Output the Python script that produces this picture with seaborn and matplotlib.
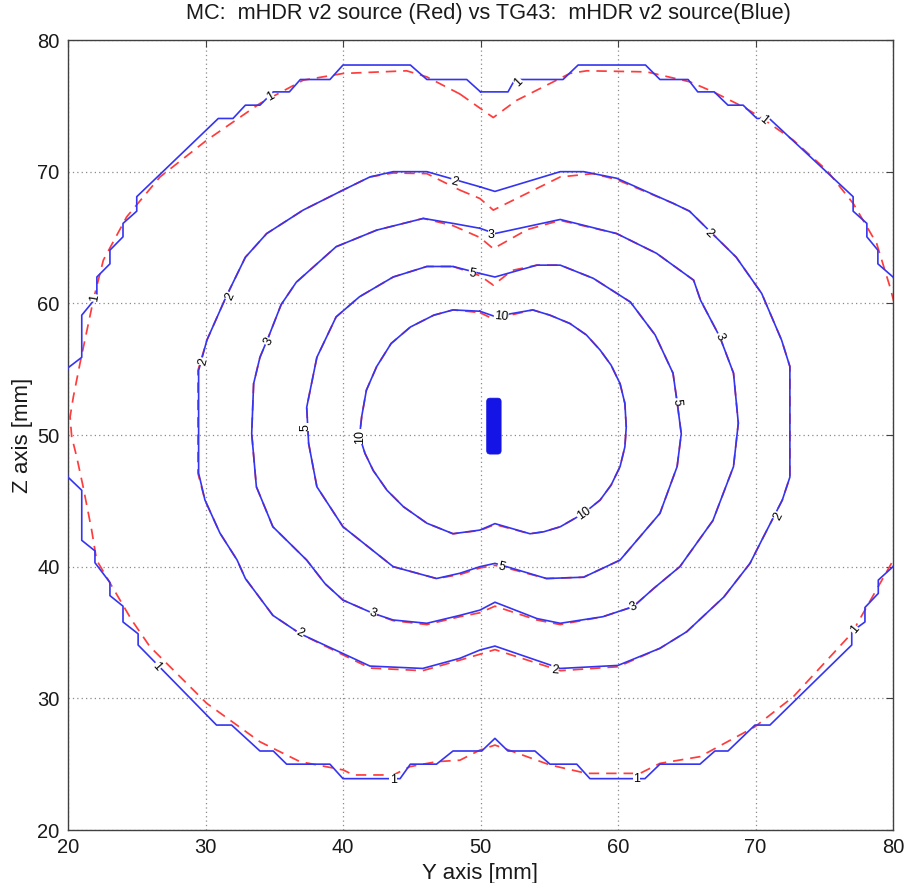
import numpy as np
import pandas as pd
import matplotlib
matplotlib.use("Agg")
import matplotlib.pyplot as plt
from matplotlib.patches import FancyBboxPatch
import seaborn as sns

# ---------------- data (Y, Z in mm) ----------------
levels = [1, 2, 3, 5, 10]

# TG43 (blue, solid) isodose outlines
tg43_y_1 = [50.0, 52.0, 52.5, 56.0, 57.1, 62.0, 63.05, 65.1, 65.8, 67.0, 68.0, 69.1, 70.1, 71.0,
            77.1, 77.1, 78.1, 78.1, 78.9, 78.9, 80.0, 81.0, 81.0, 82.0, 82.4, 82.0, 81.0, 81.0,
            80.0, 78.93, 78.93, 77.96, 77.96, 77.0, 77.0, 71.05, 69.96, 68.0, 67.05, 65.96, 63.05,
            61.96, 57.96, 57.0, 55.05, 53.96, 52.0, 51.05, 50.09, 48.0, 46.8, 44.9, 44.15, 40.0,
            39.05, 35.9, 34.93, 33.96, 31.9, 30.8, 25.1, 25.1, 24.0, 24.0, 23.05, 23.05, 21.96,
            21.96, 21.0, 21.0, 20.0, 19.6, 19.5, 19.6, 20.0, 21.0, 21.0, 22.1, 22.1, 23.05, 23.05,
            24.0, 24.0, 25.0, 25.0, 30.93, 32.0, 32.9, 33.96, 34.93, 36.1, 36.9, 39.05, 40.0, 44.9,
            46.1, 49.0, 50.0]
tg43_z_1 = [76.06, 76.06, 77.0, 77.0, 78.1, 78.1, 77.0, 77.0, 76.06, 76.06, 75.05, 75.05, 74.04, 74.04,
            68.1, 67.0, 66.07, 65.05, 64.04, 63.0, 62.0, 60.5, 55.9, 55.1, 51.0, 46.8, 45.8, 42.0,
            40.0, 38.98, 37.97, 36.9, 35.8, 35.07, 34.05, 27.97, 27.97, 26.0, 26.0, 25.0, 25.0,
            23.9, 23.9, 25.0, 25.0, 26.0, 26.0, 26.96, 26.0, 26.0, 25.0, 25.0, 23.9, 23.9,
            25.0, 25.0, 26.0, 26.0, 27.97, 27.97, 34.05, 34.9, 35.8, 37.0, 37.8, 38.8, 40.3,
            41.2, 42.0, 45.8, 46.8, 48.5, 51.0, 53.5, 55.1, 55.9, 59.1, 60.5, 62.0, 63.0, 64.04,
            65.05, 66.07, 67.0, 68.1, 74.04, 74.04, 75.05, 75.05, 76.06, 76.06, 77.0, 77.0, 78.1, 78.1,
            77.0, 77.0, 76.06]

tg43_y_2 = [49.96, 51.05, 55.8, 57.5, 59.9, 64.0, 65.2, 68.6, 70.45, 71.9, 72.5, 72.5, 71.95, 70.45,
            69.6, 67.7, 65.0, 63.05, 60.0, 55.8, 51.05, 49.96, 48.5, 45.8, 41.96, 40.0, 36.9, 34.9,
            32.9, 32.3, 31.05, 29.96, 29.5, 29.5, 30.1, 31.5, 32.9, 34.45, 37.1, 40.0, 41.96, 43.65,
            46.1, 49.96]
tg43_z_2 = [68.85, 68.5, 70.0, 70.0, 69.5, 67.6, 67.0, 63.5, 60.75, 57.2, 55.2, 46.8, 45.06, 42.0,
            40.25, 37.7, 35.06, 33.8, 32.5, 32.27, 33.97, 33.67, 33.04, 32.27, 32.45, 33.4, 34.9, 36.3,
            39.1, 40.5, 42.55, 45.06, 47.1, 54.9, 57.2, 60.5, 63.5, 65.3, 67.08, 68.6, 69.6, 70.0,
            70.0, 68.85]

tg43_y_3 = [49.96, 51.05, 55.8, 59.9, 62.8, 65.5, 66.0, 67.4, 68.4, 68.75, 68.4, 66.9, 64.5, 62.6,
            61.1, 58.9, 55.8, 54.1, 51.05, 49.96, 48.5, 46.1, 43.65, 42.2, 40.0, 38.7, 37.36, 34.9,
            33.7, 33.36, 33.5, 33.96, 34.6, 35.5, 36.6, 39.5, 42.45, 45.84, 48.0, 49.96]
tg43_z_3 = [65.7, 65.3, 66.37, 65.3, 63.8, 61.76, 60.24, 57.46, 54.7, 50.9, 47.6, 43.5, 40.0, 38.35,
            36.96, 36.2, 35.7, 36.06, 37.3, 36.7, 36.3, 35.7, 35.95, 36.45, 37.46, 38.7, 40.5, 43.03,
            46.07, 50.1, 53.9, 55.9, 57.5, 59.9, 61.6, 64.3, 65.56, 66.45, 66.07, 65.7]

tg43_y_5 = [49.96, 51.05, 54.1, 55.8, 58.2, 60.9, 62.7, 64.0, 64.3, 64.6, 64.3, 63.05, 60.15, 57.5,
            54.8, 51.9, 51.05, 49.96, 48.5, 46.8, 43.65, 40.0, 38.1, 37.5, 37.36, 38.1, 39.5, 41.2,
            43.65, 46.1, 48.0, 49.96]
tg43_z_5 = [62.27, 62.0, 62.9, 62.9, 61.9, 60.1, 57.6, 54.7, 52.5, 50.1, 47.6, 44.05, 40.5, 39.2,
            39.1, 40.0, 40.25, 40.0, 39.5, 39.1, 40.0, 43.03, 46.07, 49.36, 52.1, 55.9, 58.97, 60.5,
            62.0, 62.8, 62.8, 62.27]

tg43_y_10 = [49.96, 51.05, 53.8, 55.05, 56.5, 57.7, 58.7, 59.5, 60.15, 60.5, 60.6, 60.5, 60.15, 59.5,
             58.7, 57.5, 55.8, 54.6, 53.6, 51.05, 49.96, 48.0, 46.1, 44.4, 43.2, 42.2, 41.6, 41.2,
             41.36, 41.7, 42.45, 43.5, 44.9, 46.6, 48.0, 49.96]
tg43_z_10 = [59.4, 59.0, 59.5, 59.1, 58.47, 57.6, 56.45, 55.3, 53.9, 52.4, 50.6, 49.1, 47.6, 46.2,
             45.06, 44.05, 43.03, 42.65, 42.5, 43.27, 42.78, 42.5, 43.3, 44.55, 45.8, 47.3, 48.6, 49.9,
             51.4, 53.4, 55.2, 56.95, 58.2, 59.1, 59.5, 59.4]

# MC (red, dashed) isodose outlines
mc_y_1 = [48.5, 50.93, 52.6, 56.5, 57.72, 62.09, 65.24, 66.93, 69.11, 70.33, 72.75, 75.18, 77.11,
          78.81, 79.78, 80.6, 81.1, 81.2, 81.0, 80.5, 80.02, 77.0, 72.75, 69.96, 65.96, 63.05, 61.6,
          57.72, 55.05, 51.05, 49.96, 48.5, 46.8, 44.87, 43.66, 40.75, 40.02, 36.87, 33.96, 30.09,
          25.96, 24.63, 22.08, 21.72, 21.1, 20.63, 20.27, 20.15, 20.39, 20.87, 21.84, 22.57, 24.27,
          26.69, 30.09, 33.96, 37.11, 40.02, 44.63, 46.09, 48.5]
mc_z_1 = [75.9, 74.11, 75.4, 77.46, 77.66, 77.58, 76.82, 76.06, 74.92, 74.16, 72.39, 70.11, 67.58,
          64.55, 61.25, 58.0, 54.0, 50.5, 46.0, 42.5, 40.5, 34.94, 30.12, 27.84, 25.57, 25.06, 24.3,
          24.3, 24.94, 26.45, 26.07, 25.3, 25.19, 24.81, 24.18, 24.18, 24.56, 25.19, 26.7, 29.62,
          33.92, 35.95, 40.5, 42.78, 46.07, 48.35, 49.86, 51.38, 52.9, 55.43, 60.24, 63.28, 66.57,
          69.6, 72.39, 75.18, 76.95, 77.46, 77.66, 77.2, 75.9]

mc_y_2 = [48.5, 49.96, 50.93, 52.5, 55.8, 58.2, 59.9, 64.0, 65.2, 68.6, 70.45, 71.9, 72.5, 72.5,
          71.95, 70.45, 69.6, 67.7, 65.0, 63.05, 60.0, 55.8, 51.05, 49.96, 48.5, 45.8, 41.96, 40.0,
          36.9, 34.9, 32.9, 32.3, 31.05, 29.96, 29.45, 29.45, 30.1, 31.5, 32.9, 34.45, 37.1, 40.0,
          41.96, 43.65, 46.1, 48.5]
mc_z_2 = [68.6, 67.96, 67.08, 67.9, 69.6, 69.85, 69.4, 67.6, 67.0, 63.5, 60.75, 57.2, 55.2, 46.8,
          45.06, 42.0, 40.25, 37.7, 35.06, 33.8, 32.4, 32.1, 33.7, 33.35, 32.9, 32.1, 32.3, 33.3,
          34.9, 36.3, 39.1, 40.5, 42.55, 45.06, 47.1, 54.9, 57.2, 60.5, 63.5, 65.3, 67.08, 68.6,
          69.6, 69.9, 69.85, 68.6]

mc_y_3 = [48.0, 49.96, 50.93, 53.4, 55.8, 59.9, 62.8, 65.5, 66.0, 67.4, 68.4, 68.75, 68.4, 66.9,
          64.5, 62.6, 61.1, 58.9, 55.8, 54.1, 51.05, 49.96, 48.5, 46.1, 43.65, 42.2, 40.0, 38.7,
          37.36, 34.9, 33.7, 33.36, 33.5, 33.96, 34.6, 35.5, 36.6, 39.5, 42.45, 45.84, 48.0]
mc_z_3 = [65.9, 65.0, 64.15, 65.6, 66.3, 65.3, 63.8, 61.76, 60.24, 57.46, 54.7, 50.9, 47.6, 43.5,
          40.0, 38.35, 36.96, 36.2, 35.6, 35.95, 37.0, 36.5, 36.2, 35.6, 35.9, 36.45, 37.46, 38.7,
          40.5, 43.03, 46.07, 50.1, 53.9, 55.9, 57.5, 59.9, 61.6, 64.3, 65.56, 66.45, 65.9]

mc_y_5 = [48.0, 49.96, 50.93, 52.3, 54.1, 55.8, 58.2, 60.9, 62.7, 64.0, 64.3, 64.6, 64.3, 63.05,
          60.15, 57.5, 54.8, 51.9, 51.05, 49.96, 48.5, 46.8, 43.65, 40.0, 38.1, 37.5, 37.36, 38.1,
          39.5, 41.2, 43.65, 46.1, 48.0]
mc_z_5 = [62.8, 62.1, 61.38, 62.5, 62.9, 62.9, 61.9, 60.1, 57.6, 54.7, 52.5, 50.1, 47.6, 44.05,
          40.5, 39.2, 39.1, 39.9, 40.1, 39.9, 39.4, 39.1, 40.0, 43.03, 46.07, 49.36, 52.1, 55.9,
          58.97, 60.5, 62.0, 62.8, 62.8]

mc_y_10 = [49.96, 50.93, 53.8, 55.05, 56.5, 57.7, 58.7, 59.5, 60.15, 60.5, 60.6, 60.5, 60.15, 59.5,
           58.7, 57.5, 55.8, 54.6, 53.6, 51.05, 49.96, 48.0, 46.1, 44.4, 43.2, 42.2, 41.6, 41.2,
           41.36, 41.7, 42.45, 43.5, 44.9, 46.6, 48.0, 49.96]
mc_z_10 = [59.3, 58.8, 59.5, 59.1, 58.47, 57.6, 56.45, 55.3, 53.9, 52.4, 50.6, 49.1, 47.6, 46.2,
           45.06, 44.05, 43.03, 42.65, 42.5, 43.2, 42.75, 42.5, 43.3, 44.55, 45.8, 47.3, 48.6, 49.9,
           51.4, 53.4, 55.2, 56.95, 58.2, 59.1, 59.5, 59.3]

# contour labels (text, Y, Z, rotation)
label_text = ["1", "1", "1", "1", "1", "1", "1", "1",
              "2", "2", "2", "2", "2", "2", "2",
              "3", "3", "3", "3", "3",
              "5", "5", "5", "5",
              "10", "10", "10"]
label_y = [34.7, 52.75, 70.6, 21.96, 26.45, 43.65, 61.35, 77.24,
           48.1, 66.6, 31.8, 29.84, 71.66, 36.87, 55.4,
           50.8, 34.57, 67.4, 42.2, 61.1,
           49.4, 37.24, 64.3, 51.5,
           41.24, 51.5, 57.5]
label_z = [75.7, 76.8, 73.9, 60.4, 32.4, 23.8, 23.9, 35.2,
           69.2, 65.3, 60.5, 55.56, 43.8, 34.94, 32.15,
           65.2, 57.08, 57.46, 36.45, 36.96,
           62.27, 50.6, 52.5, 40.0,
           49.87, 58.97, 44.05]
label_rot = [30, 45, -40, 80, -48, 0, 0, 50,
             -15, -45, 65, 75, 62, -28, -5,
             0, 60, -65, -20, 25,
             -10, 90, -85, -15,
             90, -5, 35]

# source (Y range, Z range)
source_y = [50.45, 51.5]
source_z = [48.55, 52.8]

title_text = "MC:  mHDR v2 source (Red) vs TG43:  mHDR v2 source(Blue)"
x_ticks = [20, 30, 40, 50, 60, 70, 80]
y_ticks = [20, 30, 40, 50, 60, 70, 80]

# ---------------- drawing ----------------
sns.set_style("white")
plt.rcParams["font.family"] = ["Liberation Sans", "DejaVu Sans"]

fig = plt.figure(figsize=(9.07, 8.83), dpi=100)
ax = fig.add_axes([68 / 907, 53 / 883, 825 / 907, 790 / 883])

tg43 = {1: (tg43_y_1, tg43_z_1), 2: (tg43_y_2, tg43_z_2), 3: (tg43_y_3, tg43_z_3),
        5: (tg43_y_5, tg43_z_5), 10: (tg43_y_10, tg43_z_10)}
mc = {1: (mc_y_1, mc_z_1), 2: (mc_y_2, mc_z_2), 3: (mc_y_3, mc_z_3),
      5: (mc_y_5, mc_z_5), 10: (mc_y_10, mc_z_10)}

blue = "#3434f2"
red = "#ff3c3c"

for lv in levels:
    yy, zz = tg43[lv]
    sns.lineplot(x=yy, y=zz, sort=False, estimator=None, ax=ax, color=blue,
                 linewidth=1.2, zorder=3)
for lv in levels:
    yy, zz = mc[lv]
    sns.lineplot(x=yy, y=zz, sort=False, estimator=None, ax=ax, color=red,
                 linewidth=1.25, linestyle=(0, (6, 4)), zorder=2)

for t, x, y, r in zip(label_text, label_y, label_z, label_rot):
    ax.text(x, y, t, fontsize=9, rotation=r, ha="center", va="center",
            rotation_mode="anchor", color="black", zorder=5,
            bbox=dict(facecolor="white", edgecolor="none", pad=0.3))

src = FancyBboxPatch((source_y[0] + 0.12, source_z[0] + 0.12),
                     source_y[1] - source_y[0] - 0.24, source_z[1] - source_z[0] - 0.24,
                     boxstyle="round,pad=0.12,rounding_size=0.25",
                     facecolor="#1414e6", edgecolor="#1414e6", linewidth=0.5, zorder=6)
ax.add_patch(src)

ax.set_xlim(20, 80)
ax.set_ylim(20, 80)
ax.set_xticks(x_ticks)
ax.set_yticks(y_ticks)
ax.grid(True, color="#8a8a8a", linestyle=(0, (1, 2.5)), linewidth=0.9)
ax.set_axisbelow(True)
ax.tick_params(direction="in", top=True, right=True, length=5, width=0.8,
               color="#404040", labelsize=14.5, pad=6, labelcolor="#1a1a1a")
for s in ax.spines.values():
    s.set_color("#404040")
    s.set_linewidth(1.0)

ax.set_title(title_text, fontsize=15.7, pad=15, color="#1a1a1a", x=0.51)
ax.set_xlabel("Y axis [mm]", fontsize=16, labelpad=4, color="#1a1a1a")
ax.set_ylabel("Z axis [mm]", fontsize=16, labelpad=3, color="#1a1a1a")

fig.savefig("out.png", dpi=100)
